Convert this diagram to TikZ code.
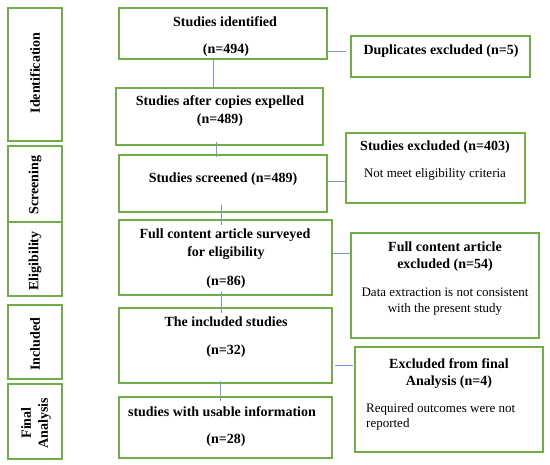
\documentclass[tikz,border=0pt]{standalone}
\usepackage{fontspec}
\setmainfont{Liberation Serif}
\definecolor{boxgreen}{RGB}{112,173,71}
\definecolor{linkblue}{RGB}{120,150,215}
\begin{document}
\begin{tikzpicture}[x=1pt,y=1pt,
  box/.style={draw=boxgreen,line width=1.5pt,inner sep=0pt},
  btxt/.style={font=\fontsize{14}{16}\selectfont\bfseries,inner sep=0pt},
  rtxt/.style={font=\fontsize{13}{15}\selectfont,inner sep=0pt},
  stage/.style={font=\fontsize{14}{17}\selectfont\bfseries,inner sep=0pt,rotate=90,align=center},
  link/.style={draw=linkblue,line width=0.8pt}]
\useasboundingbox (0,0) rectangle (550,465);
% stage boxes
\node[box,minimum width=54,minimum height=133] (s1) at (35,390.5) {};
\node[box,minimum width=54,minimum height=76] (s2) at (35,281) {};
\node[box,minimum width=54,minimum height=74] (s3) at (35,206) {};
\node[box,minimum width=54,minimum height=74] (s4) at (35,123) {};
\node[box,minimum width=54,minimum height=75] (s5) at (35,43.5) {};
\node[stage] (t1) at (35,392) {Identification};
\node[stage] (t2) at (35,280) {Screening};
\node[stage] (t3) at (35,204) {Eligibility};
\node[stage] (t4) at (35,121) {Included};
\node[stage] (t5) at (36,42) {Final\\Analysis};
% main boxes
\node[box,minimum width=208,minimum height=51] (A) at (223,431.5) {};
\node[box,minimum width=207,minimum height=57] (B) at (219.5,348.5) {};
\node[box,minimum width=208,minimum height=57] (C) at (223,281.5) {};
\node[box,minimum width=213,minimum height=75] (D) at (225.5,207.5) {};
\node[box,minimum width=213,minimum height=75] (E) at (225.5,119.5) {};
\node[box,minimum width=213,minimum height=61] (F) at (225.5,37.5) {};
\node[btxt] (a1) at (225,443) {Studies identified};
\node[btxt] (a2) at (226,415) {(n=494)};
\node[btxt] (b1) at (220,363) {Studies after copies expelled};
\node[btxt] (b2) at (220,345) {(n=489)};
\node[btxt] (c1t) at (223,286) {Studies screened (n=489)};
\node[btxt] (d1) at (225,230) {Full content article surveyed};
\node[btxt] (d2) at (226,212) {for eligibility};
\node[btxt] (d3) at (226,183) {(n=86)};
\node[btxt] (e1) at (226,143) {The included studies};
\node[btxt] (e2) at (226,114) {(n=32)};
\node[btxt] (f1) at (222,53) {studies with usable information};
\node[btxt] (f2) at (226,25) {(n=28)};
% right boxes
\node[box,minimum width=179,minimum height=41] (R1) at (440.5,408.5) {};
\node[box,minimum width=179,minimum height=70] (R2) at (435.5,297) {};
\node[box,minimum width=188,minimum height=105] (R3) at (445,179.5) {};
\node[box,minimum width=188,minimum height=105] (R4) at (449,65.5) {};
\node[btxt] (r1) at (441,414) {Duplicates excluded (n=5)};
\node[btxt] (r2a) at (435,318) {Studies excluded (n=403)};
\node[rtxt] (r2b) at (435,291) {Not meet eligibility criteria};
\node[btxt] (r3a) at (445,218) {Full content article};
\node[btxt] (r3b) at (445,200) {excluded (n=54)};
\node[rtxt] (r3c) at (445,173) {Data extraction is not consistent};
\node[rtxt] (r3d) at (445,156) {with the present study};
\node[btxt] (r4a) at (449,101) {Excluded from final};
\node[btxt] (r4b) at (449,83) {Analysis (n=4)};
\node[rtxt,anchor=west] (r4c) at (366,56) {Required outcomes were not};
\node[rtxt,anchor=west] (r4d) at (366,41) {reported};
% vertical links
\draw[link] ([xshift=-10pt]A.south) -- ([xshift=-6.5pt]B.north);
\draw[link] ([xshift=-3.5pt,yshift=4pt]B.south) -- ([xshift=-7pt,yshift=-3pt]C.north);
\draw[link] ([xshift=-2pt,yshift=8pt]C.south) -- ([xshift=-4.5pt,yshift=-6pt]D.north);
\draw[link] ([xshift=-4.5pt,yshift=4pt]D.south) -- ([xshift=-4.5pt,yshift=-6pt]E.north);
\draw[link] ([xshift=-5.5pt,yshift=3pt]E.south) -- ([xshift=-5.5pt,yshift=-5pt]F.north);
% horizontal links
\coordinate (h1) at ([xshift=-4pt,yshift=5.5pt]R1.west);
\draw[link] (A.east |- h1) -- (h1);
\coordinate (h2) at ([yshift=-13pt]R2.west);
\draw[link] (C.east |- h2) -- (h2);
\coordinate (h3) at ([yshift=32.5pt]R3.west);
\draw[link] (D.east |- h3) -- (h3);
\coordinate (h4) at ([xshift=-1pt,yshift=34.5pt]R4.west);
\coordinate (h4s) at ([xshift=2pt]E.east |- h4);
\draw[link] (h4s) -- (h4);
\end{tikzpicture}
\end{document}
